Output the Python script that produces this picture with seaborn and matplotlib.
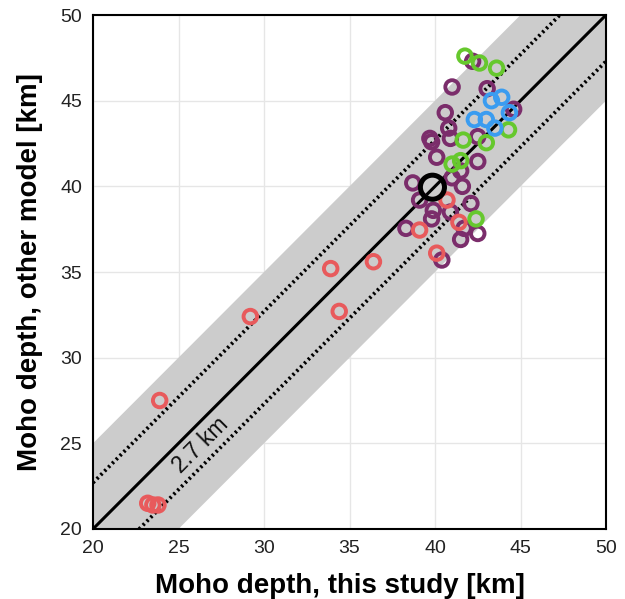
import matplotlib
matplotlib.use("Agg")
import matplotlib.pyplot as plt
import seaborn as sns
import numpy as np
import pandas as pd

sns.set_style("white")
plt.rcParams['font.family'] = ['Liberation Sans', 'DejaVu Sans']
plt.rcParams['text.color'] = 'black'

# ---- data ----
purple_x = [42.2, 41.0, 43.05, 44.6, 40.6, 40.8, 39.7, 39.8, 40.9, 42.5, 40.1, 42.5, 41.5, 41.0,
            41.6, 38.7, 39.1, 39.9, 39.8, 40.9, 42.1, 38.3, 41.7, 41.5, 42.5, 40.4]
purple_y = [47.3, 45.8, 45.7, 44.5, 44.3, 43.4, 42.8, 42.6, 42.8, 42.9, 41.7, 41.45, 40.9, 40.5,
            40.0, 40.2, 39.2, 38.6, 38.1, 38.5, 39.0, 37.55, 37.55, 36.9, 37.25, 35.7]
red_x = [23.9, 29.2, 33.9, 34.4, 36.4, 23.2, 23.5, 23.8, 40.7, 39.1, 41.4, 40.1]
red_y = [27.5, 32.4, 35.2, 32.7, 35.6, 21.5, 21.4, 21.4, 39.2, 37.45, 37.9, 36.1]
green_x = [41.75, 42.6, 43.6, 44.3, 41.65, 43.0, 41.0, 41.5, 42.4]
green_y = [47.6, 47.2, 46.9, 43.3, 42.7, 42.55, 41.3, 41.5, 38.1]
blue_x = [43.3, 43.9, 44.35, 42.3, 43.0, 43.5]
blue_y = [45.0, 45.2, 44.3, 43.9, 43.9, 43.4]
ref_x = [39.85]
ref_y = [39.95]

band_half = 5.0
rms = 2.7
xticks = [20, 25, 30, 35, 40, 45, 50]

groups = ["purple", "red", "green", "blue"]
colors = {"purple": "#7b2d6b", "red": "#e85a5c", "green": "#66c82d", "blue": "#3a9cf0"}
df = pd.concat([
    pd.DataFrame({"x": purple_x, "y": purple_y, "g": "purple"}),
    pd.DataFrame({"x": red_x, "y": red_y, "g": "red"}),
    pd.DataFrame({"x": green_x, "y": green_y, "g": "green"}),
    pd.DataFrame({"x": blue_x, "y": blue_y, "g": "blue"}),
], ignore_index=True)

fig = plt.figure(figsize=(6.25, 5.99), dpi=100)
ax = fig.add_axes([0.1488, 0.1169, 0.8208, 0.858])

ax.set_xlim(20, 50)
ax.set_ylim(20, 50)
ax.set_xticks(xticks)
ax.set_yticks(xticks)
ax.grid(True, color="#e6e6e6", lw=1.0, zorder=0)
ax.set_axisbelow(True)

xx = np.array([20, 50])
ax.fill_between(xx, xx - band_half, xx + band_half, color="#cccccc", lw=0, zorder=1)
ax.plot(xx, xx, color="black", lw=2.2, zorder=2)
ax.plot(xx, xx + rms, color="black", lw=2.7, ls=(0, (0.6, 0.85)), zorder=2)
ax.plot(xx, xx - rms, color="black", lw=2.7, ls=(0, (0.6, 0.85)), zorder=2)

for g in groups:
    sub = df[df.g == g]
    sns.scatterplot(data=sub, x="x", y="y", ax=ax, s=95, marker="o",
                    facecolor="none", edgecolor=colors[g], linewidth=2.8, zorder=3, legend=False)
sns.scatterplot(x=ref_x, y=ref_y, ax=ax, s=300, marker="o", facecolor="none",
                edgecolor="black", linewidth=3.6, zorder=4, legend=False)

ax.text(26.3, 24.9, "2.7 km", rotation=45, ha="center", va="center", fontsize=16.5,
        color="#111111", zorder=5)

ax.set_xlabel("Moho depth, this study [km]", fontsize=20, fontweight="bold", labelpad=8,
              color="black")
ax.set_ylabel("Moho depth, other model [km]", fontsize=20, fontweight="bold", labelpad=12,
              color="black")
ax.xaxis.set_label_coords(0.482, -0.085)
ax.tick_params(axis="both", labelsize=14, direction="in", length=4, width=1, color="black",
               labelcolor="#222222")
ax.tick_params(axis="x", pad=8)
ax.tick_params(axis="y", pad=8)
for sp in ax.spines.values():
    sp.set_color("black")
    sp.set_linewidth(1.5)
    sp.set_zorder(6)

fig.savefig("out.png", dpi=100)
